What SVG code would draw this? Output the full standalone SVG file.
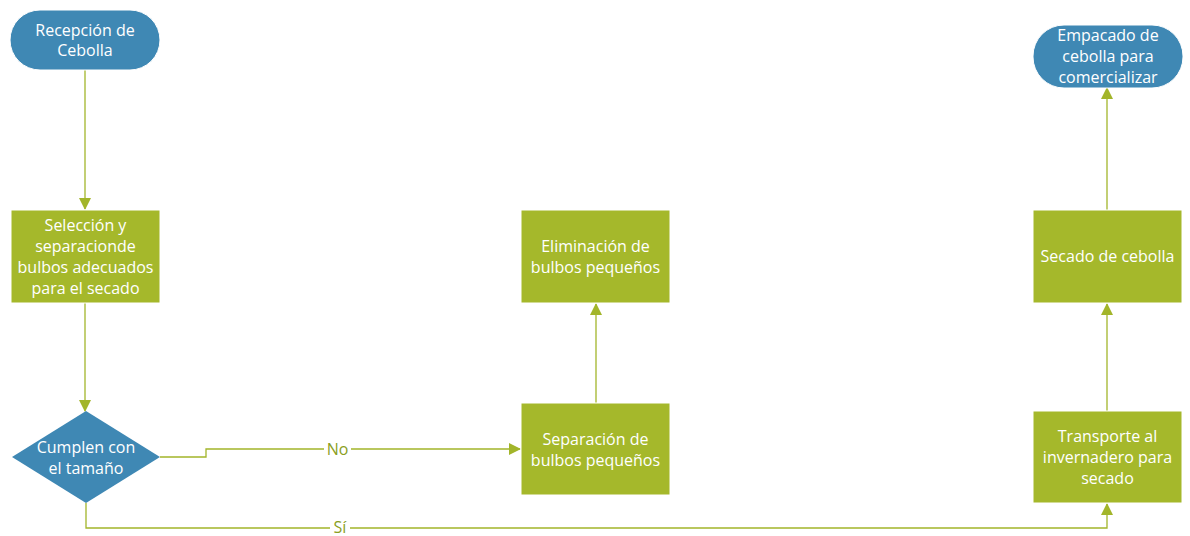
<svg xmlns="http://www.w3.org/2000/svg" width="1190" height="536" viewBox="0 0 1190 536">
  <defs>
    <marker id="arrow" markerWidth="12" markerHeight="12" refX="11" refY="6" orient="auto" markerUnits="userSpaceOnUse">
      <path d="M0,0 L12,6 L0,12 Z" fill="#A2B52A"/>
    </marker>
    <style>
      .terminal { fill: #3F88B4; stroke: #ffffff; stroke-width: 1; }
      .process { fill: #A5B82B; stroke: #ffffff; stroke-width: 1; }
      .decision { fill: #3F88B4; }
      .lbl { font-family: "Open Sans", "Noto Sans", sans-serif; font-size: 16px; fill: #ffffff; text-anchor: middle; }
      .edge { fill: none; stroke: #A2B52A; stroke-width: 1.3; }
      .elbl { font-family: "Open Sans", "Noto Sans", sans-serif; font-size: 16px; fill: #8A9E22; text-anchor: middle; }
    </style>
  </defs>

  <rect width="1190" height="536" fill="#ffffff"/>

  <!-- connectors -->
  <g id="connectors">
    <path class="edge" d="M85,70 L85,209" marker-end="url(#arrow)"/>
    <path class="edge" d="M85,303 L85,411" marker-end="url(#arrow)"/>
    <path class="edge" d="M160,457 L206,457 L206,449 L520,449" marker-end="url(#arrow)"/>
    <path class="edge" d="M86,503 L86,528 L1107,528 L1107,504" marker-end="url(#arrow)"/>
    <path class="edge" d="M596,403 L596,304" marker-end="url(#arrow)"/>
    <path class="edge" d="M1107,411 L1107,304" marker-end="url(#arrow)"/>
    <path class="edge" d="M1107,210 L1107,88" marker-end="url(#arrow)"/>
    <rect x="324" y="439" width="27" height="20" fill="#ffffff"/>
    <text class="elbl" x="337.5" y="455">No</text>
    <rect x="330" y="518" width="20" height="18" fill="#ffffff"/>
    <text class="elbl" x="340" y="533">Sí</text>
  </g>

  <g id="recepcion">
    <rect class="terminal" x="10" y="10" width="150" height="60" rx="30" ry="30"/>
    <text class="lbl" x="85" y="35.5">Recepción de</text>
    <text class="lbl" x="85" y="55.5">Cebolla</text>
  </g>

  <g id="seleccion">
    <rect class="process" x="11" y="210" width="149" height="93"/>
    <text class="lbl" x="85.5" y="230.5">Selección y</text>
    <text class="lbl" x="85.5" y="251.5">separacionde</text>
    <text class="lbl" x="85.5" y="272.5">bulbos adecuados</text>
    <text class="lbl" x="85.5" y="293.5">para el secado</text>
  </g>

  <g id="cumplen">
    <polygon class="decision" points="86,411 160,457 86,503 12,457"/>
    <text class="lbl" x="86" y="452.5">Cumplen con</text>
    <text class="lbl" x="86" y="473.5">el tamaño</text>
  </g>

  <g id="separacion">
    <rect class="process" x="521" y="403" width="149" height="92"/>
    <text class="lbl" x="595.5" y="444.5">Separación de</text>
    <text class="lbl" x="595.5" y="465.5">bulbos pequeños</text>
  </g>

  <g id="eliminacion">
    <rect class="process" x="521" y="210" width="149" height="93"/>
    <text class="lbl" x="595.5" y="251.5">Eliminación de</text>
    <text class="lbl" x="595.5" y="272.5">bulbos pequeños</text>
  </g>

  <g id="transporte">
    <rect class="process" x="1033" y="411" width="149" height="92"/>
    <text class="lbl" x="1107.5" y="441.5">Transporte al</text>
    <text class="lbl" x="1107.5" y="462.5">invernadero para</text>
    <text class="lbl" x="1107.5" y="483.5">secado</text>
  </g>

  <g id="secado">
    <rect class="process" x="1033" y="210" width="149" height="93"/>
    <text class="lbl" x="1107.5" y="262">Secado de cebolla</text>
  </g>

  <g id="empacado">
    <rect class="terminal" x="1033" y="25" width="150" height="63" rx="31" ry="31"/>
    <text class="lbl" x="1108" y="40.5">Empacado de</text>
    <text class="lbl" x="1108" y="61.5">cebolla para</text>
    <text class="lbl" x="1108" y="82.5">comercializar</text>
  </g>
</svg>
